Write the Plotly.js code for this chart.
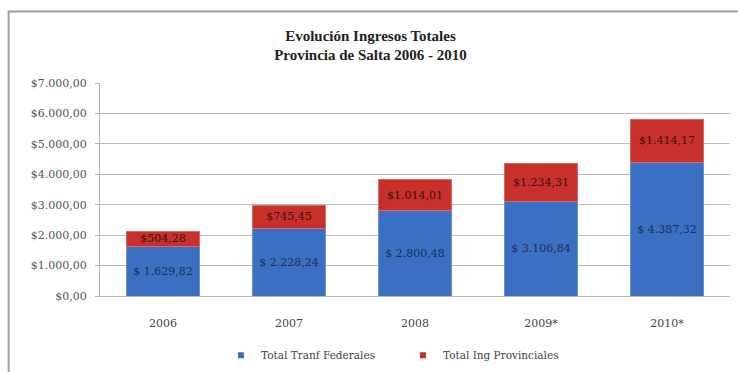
<!DOCTYPE html>
<html>
<head>
<meta charset="utf-8">
<script src="https://cdn.plot.ly/plotly-3.0.1.min.js"></script>
<style>html,body{margin:0;padding:0;background:#fff;}#chart{width:738px;height:372px;}</style>
</head>
<body>
<div id="chart"></div>
<script>
const years = ['2006', '2007', '2008', '2009*', '2010*'];
const federales = [1629.82, 2228.24, 2800.48, 3106.84, 4387.32];
const provinciales = [504.28, 745.45, 1014.01, 1234.31, 1414.17];
const yTicks = [0, 1000, 2000, 3000, 4000, 5000, 6000, 7000];
const yTickText = ['$0,00', '$1.000,00', '$2.000,00', '$3.000,00', '$4.000,00', '$5.000,00', '$6.000,00', '$7.000,00'];

const serif = "'Liberation Serif', 'Times New Roman', serif";
const serif2 = "'DejaVu Serif', 'Liberation Serif', serif";

const traces = [
  {
    type: 'bar', name: 'Total Tranf Federales', x: years, y: federales, showlegend: false,
    marker: {color: '#3b6fc2', line: {color: '#6a93d6', width: 1}},
    texttemplate: '$ %{y:,.2f}', textposition: 'inside', insidetextanchor: 'middle', constraintext: 'none',
    textfont: {family: serif2, size: 11, color: '#1d2f55'}, hoverinfo: 'skip'
  },
  {
    type: 'bar', name: 'Total Ing Provinciales', x: years, y: provinciales, showlegend: false,
    marker: {color: '#c8302c', line: {color: '#d86a66', width: 1}},
    texttemplate: '$%{y:,.2f}', textposition: 'inside', insidetextanchor: 'middle', constraintext: 'none',
    textfont: {family: serif2, size: 11, color: '#3a1412'}, hoverinfo: 'skip'
  },
  {type: 'scatter', mode: 'markers', name: 'Total Tranf Federales', x: [null], y: [null],
   marker: {symbol: 'square', size: 6, color: '#3b6fc2'}, hoverinfo: 'skip'},
  {type: 'scatter', mode: 'markers', name: 'Total Ing Provinciales', x: [null], y: [null],
   marker: {symbol: 'square', size: 6, color: '#c8302c'}, hoverinfo: 'skip'}
];

const layout = {
  width: 738, height: 372,
  margin: {l: 100, r: 8, t: 83, b: 76},
  paper_bgcolor: '#ffffff', plot_bgcolor: '#ffffff',
  separators: ',.',
  barmode: 'stack', bargap: 0.42,
  showlegend: true,
  legend: {orientation: 'h', x: 0.192, xanchor: 'left', yref: 'container', y: 0.045, yanchor: 'middle',
           entrywidth: 137, entrywidthmode: 'pixels',
           font: {family: serif2, size: 10.5, color: '#444'}, itemwidth: 30, tracegroupgap: 0,
           traceorder: 'normal'},
  title: {text: '<b>Evolución Ingresos Totales<br>Provincia de Salta 2006 - 2010</b>',
          x: 0.502, xref: 'container', xanchor: 'center', y: 0.89, yref: 'container', yanchor: 'middle',
          font: {family: serif, size: 15, color: '#222'}},
  xaxis: {type: 'category', showgrid: false, showline: true, linecolor: '#bdb3b3', linewidth: 1,
          automargin: false,
          ticks: 'outside', ticklen: 17, tickcolor: 'rgba(0,0,0,0)',
          tickfont: {family: serif2, size: 11, color: '#444'}},
  yaxis: {range: [0, 7000], tickvals: yTicks, ticktext: yTickText, automargin: false,
          showgrid: true, gridcolor: '#c2b8b8', gridwidth: 1, zeroline: false,
          showline: true, linecolor: '#bdb3b3', ticks: 'outside', ticklen: 4, tickcolor: '#bdb3b3',
          ticklabelstandoff: 6,
          tickfont: {family: serif2, size: 11, color: '#555'}},
  shapes: [
    {type: 'rect', xref: 'paper', yref: 'paper', x0: -0.145, x1: 1.05, y0: -0.5, y1: 1.336,
     line: {color: '#9e9e9e', width: 2}, fillcolor: 'rgba(0,0,0,0)', layer: 'below'}
  ]
};

Plotly.newPlot('chart', traces, layout, {displayModeBar: false, staticPlot: true});
</script>
</body>
</html>
